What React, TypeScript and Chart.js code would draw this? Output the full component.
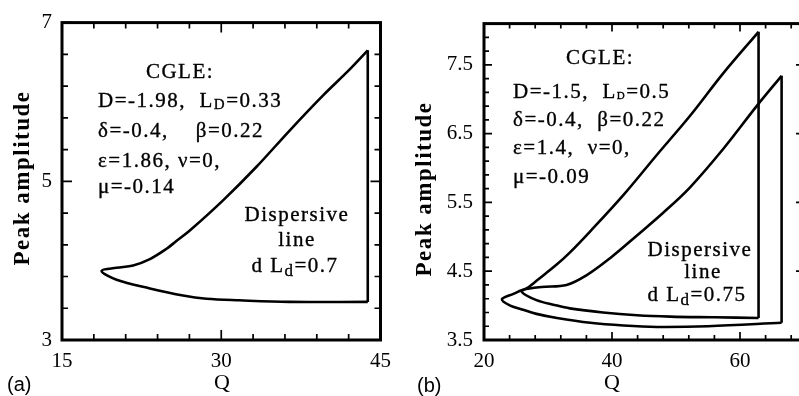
import React, { useEffect, useRef } from "react";
import { Chart, registerables } from "chart.js";

Chart.register(...registerables);

// ---------- Panel (a): D=-1.98, single loop ----------
const qUpperA = [18.73, 20.14, 21.7, 23.28, 24.85, 25.8, 27.04, 30.17, 33.3, 36.44, 39.57, 42.1, 43.8];
const ampUpperA = [3.87, 3.91, 3.94, 4.02, 4.15, 4.25, 4.38, 4.76, 5.18, 5.64, 6.08, 6.41, 6.65];
const qLowerA = [18.73, 20.14, 23.28, 26.4, 28.6, 31.7, 36.4, 43.8];
const ampLowerA = [3.87, 3.76, 3.65, 3.56, 3.52, 3.5, 3.48, 3.48];

const xTicksA = [15, 18, 21, 24, 27, 30, 33, 36, 39, 42, 45];
const xLabelsA = [15, 30, 45];
const yTicksA = [3, 3.4, 3.8, 4.2, 4.6, 5, 5.4, 5.8, 6.2, 6.6, 7];
const yLabelsA = [3, 5, 7];

// ---------- Panel (b): D=-1.5, two loops ----------
const qUpperB1 = [25.9, 27.0, 28.2, 31.4, 33.4, 36.6, 41.8, 47.0, 52.2, 57.4, 62.9];
const ampUpperB1 = [4.2, 4.27, 4.36, 4.6, 4.77, 5.08, 5.61, 6.19, 6.76, 7.38, 7.98];
const qLowerB1 = [25.9, 28.2, 31.0, 33.4, 38.6, 43.9, 49.1, 56.0, 62.9];
const ampLowerB1 = [4.2, 4.08, 4.01, 3.96, 3.9, 3.86, 3.84, 3.83, 3.82];

const qUpperB2 = [22.8, 24.6, 26.1, 29.0, 32.9, 36.0, 39.7, 43.9, 48.0, 52.2, 57.4, 62.6, 66.5];
const ampUpperB2 = [4.09, 4.17, 4.23, 4.27, 4.3, 4.44, 4.69, 5.02, 5.35, 5.72, 6.28, 6.9, 7.34];
const qLowerB2 = [22.8, 24.1, 26.1, 28.2, 31.4, 36.6, 41.8, 47.0, 55.0, 66.5];
const ampLowerB2 = [4.09, 4.0, 3.94, 3.88, 3.82, 3.75, 3.71, 3.69, 3.7, 3.75];

const xTicksB = [20, 24, 28, 32, 36, 40, 44, 48, 52, 56, 60, 64, 68];
const xLabelsB = [20, 40, 60];
const yTicksB = [3.5, 3.7, 3.9, 4.1, 4.3, 4.5, 4.7, 4.9, 5.1, 5.3, 5.5, 5.7, 5.9, 6.1, 6.3, 6.5, 6.7, 6.9, 7.1, 7.3, 7.5, 7.7, 7.9];
const yLabelsB = [3.5, 4.5, 5.5, 6.5, 7.5];

const SERIF = "'Liberation Serif', 'Times New Roman', serif";
const SANS = "'Liberation Sans', Arial, sans-serif";

type Run = { t: string; size?: number; dy?: number; bold?: boolean };
type TextItem = {
  x: number;
  y: number;
  align: "left" | "center";
  runs: Run[];
  size?: number;
  bold?: boolean;
  family?: string;
  spacing?: number;
  rotate?: boolean;
  weight?: number;
};

type Loop = { qUp: number[]; aUp: number[]; qLo: number[]; aLo: number[] };

type PanelProps = {
  left: number;
  width: number;
  height: number;
  area: { left: number; top: number; right: number; bottom: number };
  xRange: [number, number];
  yRange: [number, number];
  xTicks: number[];
  xLabels: number[];
  yTicks: number[];
  yLabels: number[];
  xLabelPad: number;
  yLabelPad: number;
  majorLen: number;
  minorLen: number;
  loops: Loop[];
  texts: TextItem[];
};

const isIn = (v: number, list: number[]) => list.some((m) => Math.abs(m - v) < 1e-6);

const toPoints = (q: number[], a: number[]) => q.map((x, i) => ({ x, y: a[i] }));

function drawText(ctx: CanvasRenderingContext2D, item: TextItem) {
  const base = item.size ?? 21;
  const family = item.family ?? SERIF;
  const weight = item.weight ?? 0.35;
  const fontFor = (r: Run) => `${r.bold ?? item.bold ? "bold " : ""}${r.size ?? base}px ${family}`;
  ctx.save();
  (ctx as any).letterSpacing = `${item.spacing ?? 0}px`;
  ctx.fillStyle = "#000";
  ctx.strokeStyle = "#000";
  if (weight > 0) ctx.lineWidth = weight;
  ctx.lineJoin = "round";
  ctx.textBaseline = "middle";
  ctx.textAlign = "left";
  let total = 0;
  const widths = item.runs.map((r) => {
    ctx.font = fontFor(r);
    const w = ctx.measureText(r.t).width;
    total += w;
    return w;
  });
  ctx.translate(item.x, item.y);
  if (item.rotate) ctx.rotate(-Math.PI / 2);
  let x = item.align === "center" ? -total / 2 : 0;
  item.runs.forEach((r, i) => {
    ctx.font = fontFor(r);
    ctx.fillText(r.t, x, r.dy ?? 0);
    if (weight > 0) ctx.strokeText(r.t, x, r.dy ?? 0);
    x += widths[i];
  });
  ctx.restore();
}

function Panel(p: PanelProps) {
  const ref = useRef<HTMLCanvasElement | null>(null);

  useEffect(() => {
    const canvas = ref.current;
    if (!canvas) return;

    const datasets: any[] = [];
    p.loops.forEach((l) => {
      const upper = toPoints(l.qUp, l.aUp);
      const lower = toPoints(l.qLo, l.aLo);
      // smooth branch: lower end -> turning point -> upper end
      datasets.push({
        data: [...lower.slice().reverse(), ...upper.slice(1)],
        showLine: true,
        tension: 0.35,
        borderColor: "#000",
        borderWidth: 2.6,
        pointRadius: 0,
        fill: false,
      });
      // dispersive jump between branch ends
      datasets.push({
        data: [upper[upper.length - 1], lower[lower.length - 1]],
        showLine: true,
        tension: 0,
        borderColor: "#000",
        borderWidth: 2.6,
        pointRadius: 0,
        fill: false,
      });
    });

    const framePlugin = {
      id: "frameTicks",
      afterDatasetsDraw(chart: any) {
        const { ctx, chartArea: a, scales } = chart;
        const xs = scales.x;
        const ys = scales.y;
        ctx.save();
        ctx.strokeStyle = "#000";
        ctx.lineWidth = 1.7;
        ctx.beginPath();
        xs.ticks.forEach((t: any) => {
          const px = xs.getPixelForValue(t.value);
          const len = isIn(t.value, p.xLabels) ? p.majorLen : p.minorLen;
          ctx.moveTo(px, a.bottom);
          ctx.lineTo(px, a.bottom - len);
          ctx.moveTo(px, a.top);
          ctx.lineTo(px, a.top + len);
        });
        ys.ticks.forEach((t: any) => {
          const py = ys.getPixelForValue(t.value);
          const len = isIn(t.value, p.yLabels) ? p.majorLen : p.minorLen;
          ctx.moveTo(a.left, py);
          ctx.lineTo(a.left + len, py);
          ctx.moveTo(a.right, py);
          ctx.lineTo(a.right - len, py);
        });
        ctx.stroke();
        ctx.lineWidth = 3;
        ctx.strokeRect(a.left, a.top, a.right - a.left, a.bottom - a.top);
        ctx.restore();
      },
      afterDraw(chart: any) {
        p.texts.forEach((t) => drawText(chart.ctx, t));
      },
    };

    const tickFont = { family: SERIF, size: 21 };

    const chart = new Chart(canvas, {
      type: "scatter",
      data: { datasets },
      options: {
        animation: false,
        responsive: false,
        devicePixelRatio: 1,
        layout: {
          padding: {
            left: 0,
            top: p.area.top,
            right: p.width - p.area.right,
            bottom: 0,
          },
        },
        plugins: { legend: { display: false }, tooltip: { enabled: false } },
        scales: {
          x: {
            type: "linear",
            min: p.xRange[0],
            max: p.xRange[1],
            afterBuildTicks: (s: any) => {
              s.ticks = p.xTicks.map((v) => ({ value: v }));
            },
            afterFit: (s: any) => {
              s.height = p.height - p.area.bottom;
            },
            ticks: {
              autoSkip: false,
              maxRotation: 0,
              padding: p.xLabelPad,
              color: "#000",
              font: tickFont,
              callback: (v: any) => (isIn(Number(v), p.xLabels) ? String(v) : ""),
            },
            grid: { display: false, drawTicks: false },
            border: { display: false },
          },
          y: {
            type: "linear",
            min: p.yRange[0],
            max: p.yRange[1],
            afterBuildTicks: (s: any) => {
              s.ticks = p.yTicks.map((v) => ({ value: v }));
            },
            afterFit: (s: any) => {
              s.width = p.area.left;
            },
            ticks: {
              autoSkip: false,
              padding: p.yLabelPad,
              color: "#000",
              font: tickFont,
              callback: (v: any) => (isIn(Number(v), p.yLabels) ? String(v) : ""),
            },
            grid: { display: false, drawTicks: false },
            border: { display: false },
          },
        },
      } as any,
      plugins: [framePlugin as any],
    });

    return () => chart.destroy();
  }, []);

  return (
    <canvas
      ref={ref}
      width={p.width}
      height={p.height}
      style={{ position: "absolute", left: p.left, top: 0, width: p.width, height: p.height }}
    />
  );
}

const textsA: TextItem[] = [
  { x: 23, y: 178, align: "center", rotate: true, bold: true, size: 23, spacing: 1.5, weight: 0, runs: [{ t: "Peak amplitude" }] },
  { x: 222, y: 383, align: "center", size: 22, weight: 0, runs: [{ t: "Q" }] },
  { x: 7, y: 385, align: "left", size: 20, family: SANS, weight: 0, runs: [{ t: "(a)" }] },
  { x: 180, y: 72, align: "center", spacing: 1.5, runs: [{ t: "CGLE:" }] },
  {
    x: 98, y: 101, align: "left", spacing: 1.5,
    runs: [{ t: "D=-1.98,  L" }, { t: "D", size: 15, dy: 4 }, { t: "=0.33" }],
  },
  { x: 98, y: 131, align: "left", spacing: 1.5, runs: [{ t: "δ=-0.4,    β=0.22" }] },
  { x: 98, y: 161, align: "left", spacing: 1.5, runs: [{ t: "ε=1.86, ν=0," }] },
  { x: 98, y: 187, align: "left", spacing: 1.5, runs: [{ t: "μ=-0.14" }] },
  { x: 297, y: 215, align: "center", spacing: 1.5, runs: [{ t: "Dispersive" }] },
  { x: 297, y: 240, align: "center", spacing: 1.5, runs: [{ t: "line" }] },
  {
    x: 295, y: 266, align: "center", spacing: 1.5,
    runs: [{ t: "d L" }, { t: "d", size: 17, dy: 6 }, { t: "=0.7" }],
  },
];

const textsB: TextItem[] = [
  { x: 25, y: 189, align: "center", rotate: true, bold: true, size: 23, spacing: 1.5, weight: 0, runs: [{ t: "Peak amplitude" }] },
  { x: 212, y: 383, align: "center", size: 22, weight: 0, runs: [{ t: "Q" }] },
  { x: 17, y: 386, align: "left", size: 20, family: SANS, weight: 0, runs: [{ t: "(b)" }] },
  { x: 200, y: 58, align: "center", spacing: 1.5, runs: [{ t: "CGLE:" }] },
  {
    x: 113, y: 92, align: "left", spacing: 1.5,
    runs: [{ t: "D=-1.5,  L" }, { t: "D", size: 11, dy: 4 }, { t: "=0.5" }],
  },
  { x: 113, y: 120, align: "left", spacing: 1.5, runs: [{ t: "δ=-0.4,  β=0.22" }] },
  { x: 113, y: 148, align: "left", spacing: 1.5, runs: [{ t: "ε=1.4,  ν=0," }] },
  { x: 113, y: 177, align: "left", spacing: 1.5, runs: [{ t: "μ=-0.09" }] },
  { x: 300, y: 250, align: "center", spacing: 1.5, runs: [{ t: "Dispersive" }] },
  { x: 303, y: 272, align: "center", spacing: 1.5, runs: [{ t: "line" }] },
  {
    x: 297, y: 295, align: "center", spacing: 1.5,
    runs: [{ t: "d L" }, { t: "d", size: 17, dy: 6 }, { t: "=0.75" }],
  },
];

export default function App() {
  return (
    <div
      style={{
        position: "fixed",
        left: 0,
        top: 0,
        width: 799,
        height: 396,
        overflow: "hidden",
        background: "#fff",
      }}
    >
      <Panel
        left={0}
        width={400}
        height={396}
        area={{ left: 62, top: 20, right: 381, bottom: 340 }}
        xRange={[15, 45]}
        yRange={[3, 7]}
        xTicks={xTicksA}
        xLabels={xLabelsA}
        yTicks={yTicksA}
        yLabels={yLabelsA}
        xLabelPad={9}
        yLabelPad={10}
        majorLen={10}
        minorLen={6}
        loops={[{ qUp: qUpperA, aUp: ampUpperA, qLo: qLowerA, aLo: ampLowerA }]}
        texts={textsA}
      />
      <Panel
        left={400}
        width={410}
        height={396}
        area={{ left: 84, top: 20, right: 404, bottom: 340 }}
        xRange={[20, 70]}
        yRange={[3.5, 8.1]}
        xTicks={xTicksB}
        xLabels={xLabelsB}
        yTicks={yTicksB}
        yLabels={yLabelsB}
        xLabelPad={9}
        yLabelPad={11}
        majorLen={8}
        minorLen={5}
        loops={[
          { qUp: qUpperB1, aUp: ampUpperB1, qLo: qLowerB1, aLo: ampLowerB1 },
          { qUp: qUpperB2, aUp: ampUpperB2, qLo: qLowerB2, aLo: ampLowerB2 },
        ]}
        texts={textsB}
      />
    </div>
  );
}
